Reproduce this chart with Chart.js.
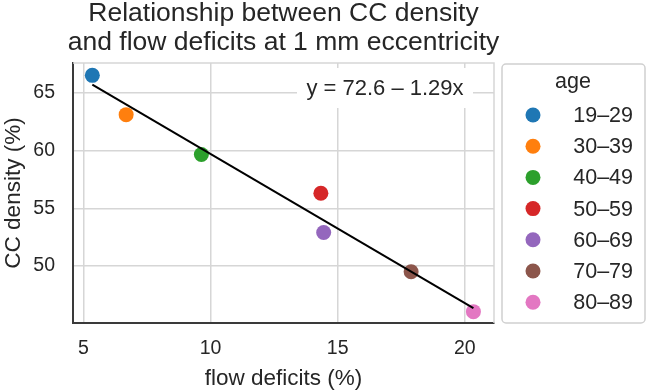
<!DOCTYPE html>
<html>
<head>
<meta charset="utf-8">
<script src="https://cdn.jsdelivr.net/npm/chart.js@4.4.1/dist/chart.umd.min.js"></script>
<style>
  html, body { margin: 0; padding: 0; background: #fff; }
</style>
</head>
<body>
<canvas id="chart" width="647" height="392"></canvas>
<script>
// values
const ageGroups = ['19–29', '30–39', '40–49', '50–59', '60–69', '70–79', '80–89'];
const flowDeficits = [5.35, 6.68, 9.64, 14.34, 14.45, 17.89, 20.34];
const ccDensity = [66.5, 63.1, 59.65, 56.3, 52.9, 49.5, 46.05];
const xTicks = [5, 10, 15, 20];
const yTicks = [50, 55, 60, 65];
const fitIntercept = 72.6;
const fitSlope = -1.29;

const palette = ['#1f77b4', '#ff7f0e', '#2ca02c', '#d62728', '#9467bd', '#8c564b', '#e377c2'];
const family = "'Liberation Sans', Arial, sans-serif";
const textColor = '#262626';
const gridColor = '#d6d6d6';

Chart.defaults.font.family = family;
Chart.defaults.color = textColor;

const xMin = Math.min(...flowDeficits);
const xMax = Math.max(...flowDeficits);

const scatterSets = ageGroups.map((age, i) => ({
  type: 'scatter',
  label: age,
  data: [{ x: flowDeficits[i], y: ccDensity[i] }],
  backgroundColor: palette[i],
  borderWidth: 0,
  pointRadius: 7.5,
  pointHoverRadius: 7.5,
  order: 1
}));

const fitLine = {
  type: 'line',
  label: 'fit',
  data: [
    { x: xMin, y: fitIntercept + fitSlope * xMin },
    { x: xMax, y: fitIntercept + fitSlope * xMax }
  ],
  borderColor: '#000',
  borderWidth: 2,
  pointRadius: 0,
  fill: false,
  order: 0
};

// centre the title over the plot area without squeezing it
const titleOverPlot = {
  id: 'titleOverPlot',
  afterLayout(chart) {
    const a = chart.chartArea;
    if (chart.titleBlock) {
      chart.titleBlock.left = a.left - 70;
      chart.titleBlock.right = a.right + 70;
      chart.titleBlock.width = chart.titleBlock.right - chart.titleBlock.left;
    }
  }
};

// light frame on top/right like the reference
const frame = {
  id: 'frame',
  beforeDatasetsDraw(chart) {
    const { ctx, chartArea: a } = chart;
    ctx.save();
    ctx.strokeStyle = gridColor;
    ctx.lineWidth = 1.5;
    ctx.beginPath();
    ctx.moveTo(a.left, a.top);
    ctx.lineTo(a.right, a.top);
    ctx.lineTo(a.right, a.bottom);
    ctx.stroke();
    ctx.restore();
  }
};

const equationBox = {
  id: 'equationBox',
  afterDatasetsDraw(chart) {
    const { ctx, chartArea: a } = chart;
    const w = 176, h = 40;
    const left = a.right - 21 - w, top = a.top + 5;
    ctx.save();
    ctx.fillStyle = '#fff';
    ctx.fillRect(left, top, w, h);
    ctx.fillStyle = textColor;
    ctx.font = '22px ' + family;
    ctx.textAlign = 'center';
    ctx.textBaseline = 'middle';
    const sign = fitSlope < 0 ? '–' : '+';
    ctx.fillText('y = ' + fitIntercept.toFixed(1) + ' ' + sign + ' ' + Math.abs(fitSlope).toFixed(2) + 'x', left + w / 2, top + h / 2 + 1);
    ctx.restore();
  }
};

const ageLegend = {
  id: 'ageLegend',
  afterDraw(chart) {
    const { ctx, chartArea: a } = chart;
    const left = a.right + 8, top = a.top + 1;
    const w = 143, h = a.bottom - top;
    ctx.save();
    ctx.strokeStyle = '#d0d0d0';
    ctx.lineWidth = 1.5;
    ctx.beginPath();
    ctx.roundRect(left, top, w, h, 4);
    ctx.stroke();
    ctx.font = '21.5px ' + family;
    ctx.textBaseline = 'middle';
    ctx.fillStyle = textColor;
    ctx.textAlign = 'center';
    ctx.fillText('age', left + 71, top + 18);
    chart.data.datasets.forEach((ds, i) => {
      if (ds.type !== 'scatter') return;
      const y = top + 51 + i * 31.2;
      ctx.beginPath();
      ctx.arc(left + 31, y, 7.5, 0, Math.PI * 2);
      ctx.fillStyle = ds.backgroundColor;
      ctx.fill();
      ctx.fillStyle = textColor;
      ctx.textAlign = 'right';
      ctx.fillText(ds.label, left + 131, y + 1);
    });
    ctx.restore();
  }
};

new Chart(document.getElementById('chart'), {
  data: { datasets: [...scatterSets, fitLine] },
  options: {
    responsive: false,
    animation: false,
    layout: { padding: { left: 0, right: 153, top: 0, bottom: 0 } },
    plugins: {
      legend: { display: false },
      tooltip: { enabled: false },
      title: {
        display: true,
        fullSize: false,
        text: ['Relationship between CC density', 'and flow deficits at 1 mm eccentricity'],
        font: { size: 26.5, weight: 'normal', lineHeight: 1.068 },
        color: textColor,
        padding: { top: 0, bottom: 6.4 }
      }
    },
    scales: {
      x: {
        type: 'linear',
        min: 4.59,
        max: 21.15,
        afterBuildTicks: s => { s.ticks = xTicks.map(v => ({ value: v })); },
        afterFit: s => { s.height = 69; },
        grid: { color: gridColor, lineWidth: 1.5, drawTicks: false },
        border: { color: '#3a3a3a', width: 2 },
        ticks: { padding: 14, font: { size: 19.5 }, color: textColor },
        title: { display: true, text: 'flow deficits (%)', font: { size: 22.5 }, color: textColor, padding: { top: 0, bottom: 0 } }
      },
      y: {
        type: 'linear',
        min: 45.07,
        max: 67.57,
        afterBuildTicks: s => { s.ticks = yTicks.map(v => ({ value: v })); },
        afterFit: s => { s.width = 73; },
        grid: { color: gridColor, lineWidth: 1.5, drawTicks: false },
        border: { color: '#3a3a3a', width: 2 },
        ticks: { padding: 18, font: { size: 19.5 }, color: textColor },
        title: { display: true, text: 'CC density (%)', font: { size: 22.5 }, color: textColor, padding: { top: 0, bottom: 0 } }
      }
    }
  },
  plugins: [titleOverPlot, frame, equationBox, ageLegend]
});
</script>
</body>
</html>
